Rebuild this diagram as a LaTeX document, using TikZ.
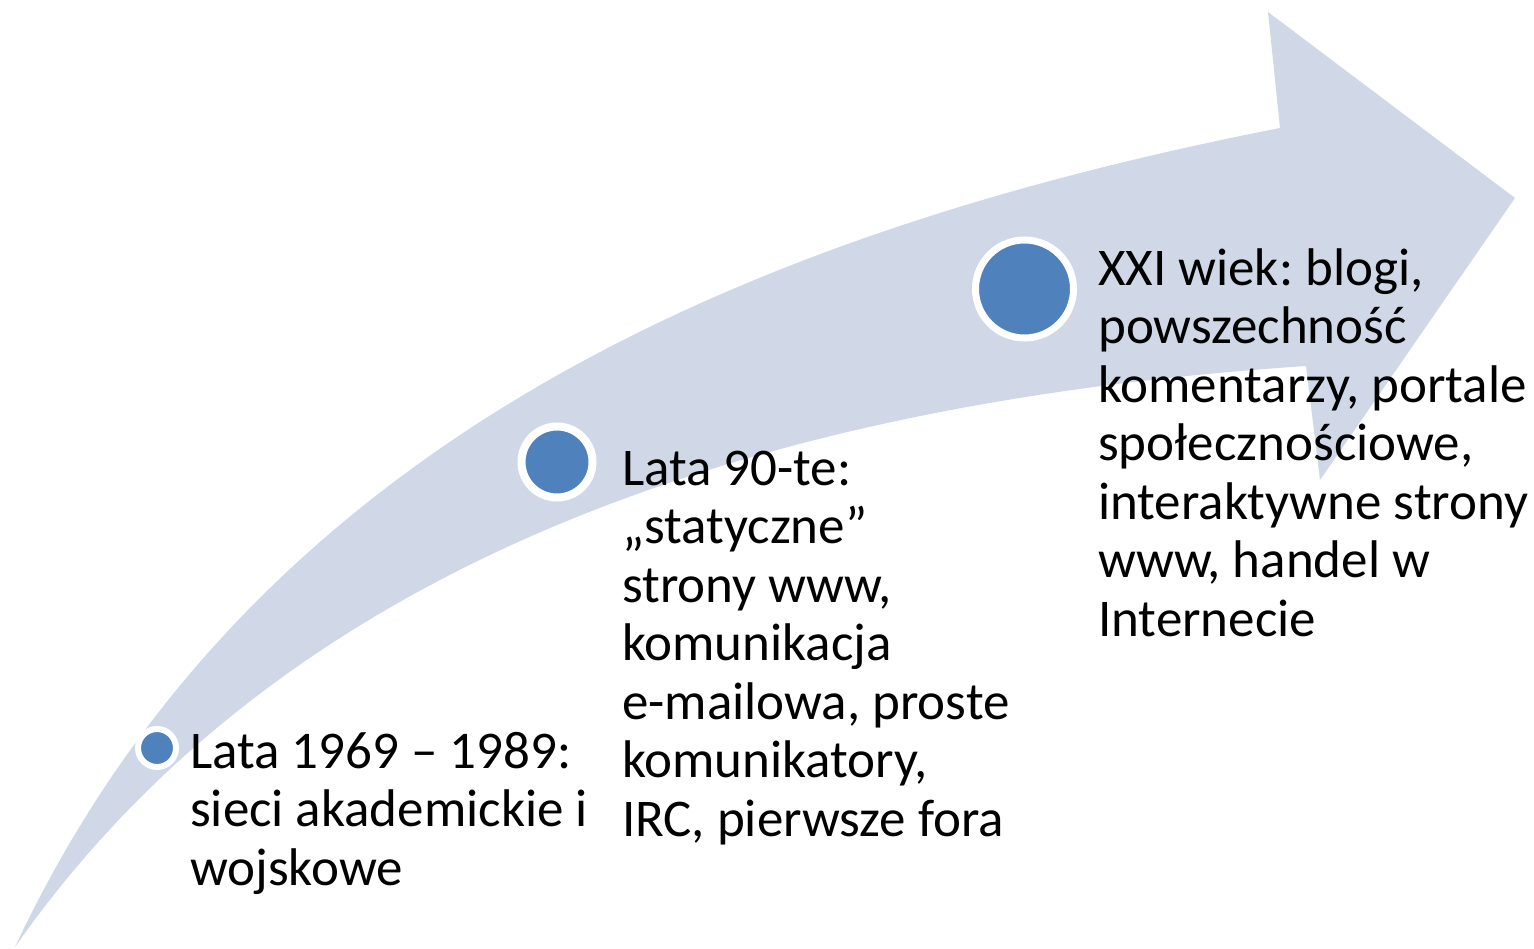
\documentclass[tikz,border=0pt]{standalone}
\usepackage{fontspec}
\setmainfont{Carlito}
\frenchspacing
\usetikzlibrary{positioning}
\definecolor{bandblue}{RGB}{208,216,232}
\definecolor{dotblue}{RGB}{79,129,189}
\tikzset{
  stagetext/.style={anchor=base west, align=left, inner sep=0pt,
    font=\fontsize{53}{58.5}\selectfont, text=black},
}
\begin{document}
\begin{tikzpicture}[x=1pt,y=-1pt]
\useasboundingbox (0,0) rectangle (1534,949);
% curved band with arrow head
\fill[bandblue] (15,947) .. controls (255,435) and (760,230) .. (1280,128)
  -- (1268,12) -- (1515,198) -- (1320,480) -- (1306,366)
  .. controls (800,400) and (300,540) .. (15,947) -- cycle;
% stage dots
\draw[line width=6pt, white, fill=dotblue] (157,748) circle (19);
\draw[line width=8pt, white, fill=dotblue] (557,462) circle (35.5);
\draw[line width=7pt, white, fill=dotblue] (1024.5,289) circle (49);
% labels (anchored at the last baseline)
\node[stagetext] (early) at (190,885) {Lata 1969 – 1989:\\sieci akademickie i\\wojskowe};
\node[stagetext] (nineties) at (622,836) {Lata 90-te:\\„statyczne”\\strony www,\\komunikacja\\e-mailowa, proste\\komunikatory,\\IRC, pierwsze fora};
\node[stagetext] (modern) at (1098,636) {XXI wiek: blogi,\\powszechność\\komentarzy, portale\\społecznościowe,\\interaktywne strony\\www, handel w\\Internecie};
\end{tikzpicture}
\end{document}
